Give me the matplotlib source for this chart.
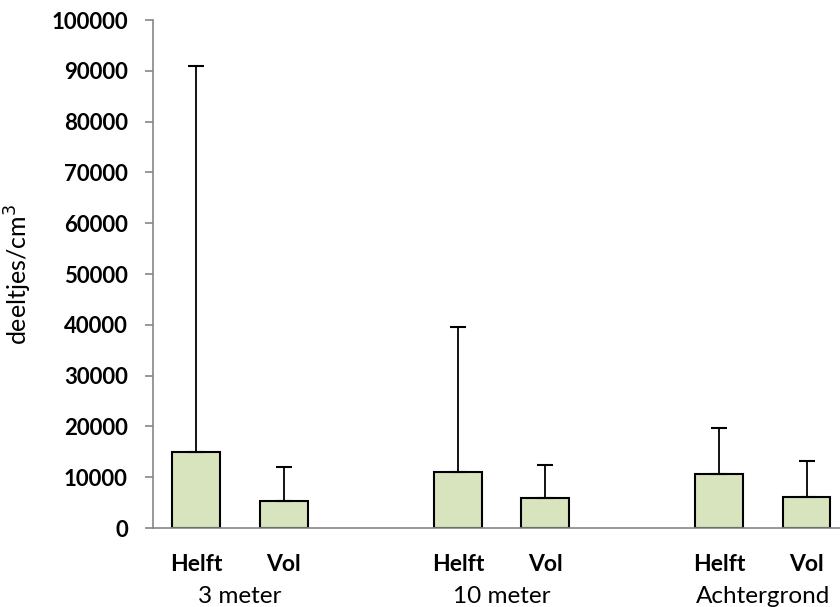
import matplotlib.pyplot as plt
import matplotlib.transforms as mtransforms

plt.rcParams['font.family'] = ['Lato', 'DejaVu Sans']

# data
groups = ['3 meter', '10 meter', 'Achtergrond']
conditions = ['Helft', 'Vol']
means = [14900, 5300, 11100, 5850, 10600, 6050]
err_up = [76000, 6800, 28400, 6650, 9150, 7250]  # upper error only
positions = [0, 1, 3, 4, 6, 7]

fig = plt.figure(figsize=(8.4, 6.07), dpi=100)
ax = fig.add_axes([0.182, 0.130, 0.830, 0.837])

ax.bar(positions, means, width=0.55, color='#D7E4BD', edgecolor='black',
       linewidth=1.5, zorder=2)
ax.errorbar(positions, means, yerr=[[0] * len(means), err_up], fmt='none',
            ecolor='black', elinewidth=1.3, capsize=6, capthick=1.5, zorder=3)

ax.set_xlim(-0.5, 7.5)
ax.set_ylim(0, 100000)
ax.set_yticks(range(0, 100001, 10000))
ax.set_yticklabels([str(v) for v in range(0, 100001, 10000)],
                   fontsize=16, fontweight='bold')
ax.tick_params(axis='y', length=6, width=1.2, color='#868686', pad=12)

ax.set_xticks(positions)
ax.set_xticklabels(conditions * 3, fontsize=16.5, fontweight='bold')
ax.tick_params(axis='x', length=0, pad=19)

trans = mtransforms.blended_transform_factory(ax.transData, ax.transAxes)
for i, g in enumerate(groups):
    ax.text(positions[2 * i] + 0.5, -0.113, g, transform=trans, ha='center',
            va='top', fontsize=17.5)

for s in ['top', 'right']:
    ax.spines[s].set_visible(False)
for s in ['left', 'bottom']:
    ax.spines[s].set_color('#868686')
    ax.spines[s].set_linewidth(1.2)

ax.set_ylabel('deeltjes/cm$^3$', fontsize=18)
ax.yaxis.set_label_coords(-0.17, 0.5)

fig.savefig('out.png', dpi=100)
